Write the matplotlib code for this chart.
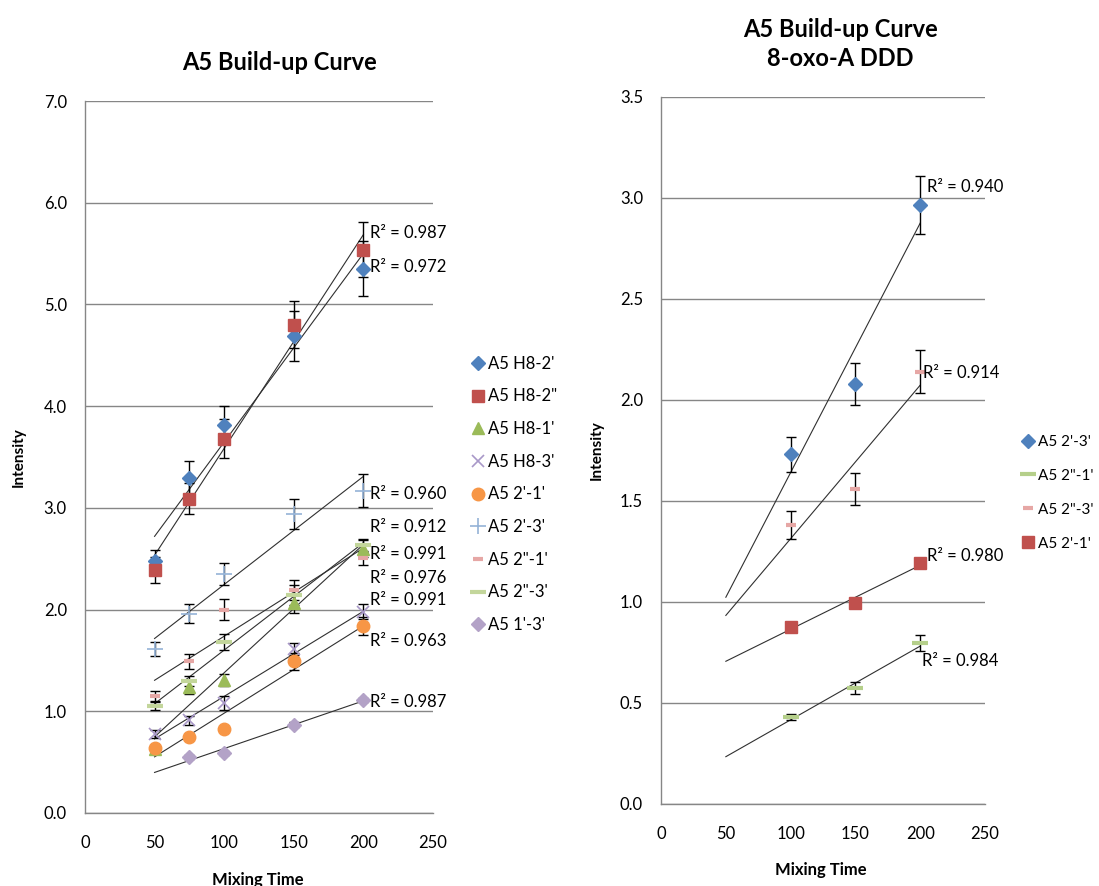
import numpy as np
import matplotlib
matplotlib.use("Agg")
import matplotlib.pyplot as plt

plt.rcParams['font.family'] = ['Lato', 'DejaVu Sans']

# ---- left chart data ----
mix_time = [50, 75, 100, 150, 200]
left_names = ["A5 H8-2'", 'A5 H8-2"', "A5 H8-1'", "A5 H8-3'", "A5 2'-1'",
              "A5 2'-3'", "A5 2\"-1'", "A5 2\"-3'", "A5 1'-3'"]
h8_2p = [2.48, 3.29, 3.815, 4.69, 5.35]
h8_2pp = [2.39, 3.09, 3.68, 4.80, 5.54]
h8_1p = [0.63, 1.24, 1.31, 2.06, 2.60]
h8_3p = [0.78, 0.91, 1.08, 1.61, 1.98]
a2p_1p = [0.64, 0.75, 0.83, 1.49, 1.84]
a2p_3p = [1.61, 1.96, 2.35, 2.94, 3.17]
a2pp_1p = [1.15, 1.49, 2.00, 2.19, 2.51]
a2pp_3p = [1.05, 1.30, 1.68, 2.14, 2.63]
a1p_3p = [np.nan, 0.55, 0.59, 0.87, 1.11]
h8_2p_err = [0.11, 0.17, 0.19, 0.25, 0.27]
h8_2pp_err = [0.13, 0.15, 0.19, 0.23, 0.27]
h8_1p_err = [0.0, 0.07, 0.06, 0.09, 0.08]
h8_3p_err = [0.04, 0.04, 0.07, 0.06, 0.07]
a2p_1p_err = [0.0, 0.0, 0.0, 0.08, 0.09]
a2p_3p_err = [0.07, 0.09, 0.11, 0.15, 0.16]
a2pp_1p_err = [0.05, 0.07, 0.10, 0.10, 0.07]
a2pp_3p_err = [0.04, 0.05, 0.08, 0.10, 0.06]
a1p_3p_err = [0.0, 0.02, 0.02, 0.02, 0.02]
left_r2 = ["0.987", "0.972", "0.960", "0.912", "0.991", "0.976", "0.991", "0.963", "0.987"]
left_r2_y = [5.70, 5.37, 3.14, 2.815, 2.55, 2.31, 2.09, 1.69, 1.094]

# ---- right chart data ----
mix_time_r = [100, 150, 200]
right_names = ["A5 2'-3'", "A5 2\"-1'", "A5 2\"-3'", "A5 2'-1'"]
r_2p_3p = [1.73, 2.08, 2.965]
r_2pp_1p = [0.43, 0.572, 0.795]
r_2pp_3p = [1.38, 1.56, 2.14]
r_2p_1p = [0.878, 0.997, 1.195]
r_2p_3p_err = [0.085, 0.105, 0.145]
r_2pp_1p_err = [0.015, 0.03, 0.04]
r_2pp_3p_err = [0.07, 0.078, 0.105]
r_2p_1p_err = [0.0, 0.0, 0.0]
right_r2 = ["0.940", "0.914", "0.980", "0.984"]
right_r2_xy = [(205, 3.056), (202, 2.135), (205, 1.228), (201, 0.709)]

# trend lines are drawn over this x range on both charts
trend_range = (50, 200)

GRID = '#868686'
FS = 12

left_series = [
    (h8_2p, h8_2p_err, dict(marker='D', ms=7, color='#4F81BD')),
    (h8_2pp, h8_2pp_err, dict(marker='s', ms=9, color='#C0504D')),
    (h8_1p, h8_1p_err, dict(marker='^', ms=9, color='#9BBB59')),
    (h8_3p, h8_3p_err, dict(marker='x', ms=9, color='#A898C8', mew=1.2)),
    (a2p_1p, a2p_1p_err, dict(marker='o', ms=9, color='#F79646')),
    (a2p_3p, a2p_3p_err, dict(marker='+', ms=11, color='#95B3D7', mew=1.2)),
    (a2pp_1p, a2pp_1p_err, dict(marker='_', ms=7, color='#E6A7A5', mew=3)),
    (a2pp_3p, a2pp_3p_err, dict(marker='_', ms=11, color='#C3D69B', mew=3)),
    (a1p_3p, a1p_3p_err, dict(marker='D', ms=7, color='#B3A2C7')),
]

right_series = [
    (r_2p_3p, r_2p_3p_err, dict(marker='D', ms=7, color='#4F81BD')),
    (r_2pp_1p, r_2pp_1p_err, dict(marker='_', ms=11, color='#B5CF8A', mew=3)),
    (r_2pp_3p, r_2pp_3p_err, dict(marker='_', ms=7, color='#E6A7A5', mew=3)),
    (r_2p_1p, r_2p_1p_err, dict(marker='s', ms=9, color='#C0504D')),
]


def style_axes(ax, ymax, ystep):
    ax.set_xlim(0, 250)
    ax.set_ylim(0, ymax)
    ax.set_xticks(np.arange(0, 251, 50))
    ax.set_yticks(np.arange(0, ymax + 1e-9, ystep))
    ax.yaxis.set_major_formatter(matplotlib.ticker.FormatStrFormatter('%.1f'))
    ax.grid(axis='y', color=GRID, lw=1)
    ax.set_axisbelow(True)
    for s in ['top', 'right']:
        ax.spines[s].set_visible(False)
    for s in ['left', 'bottom']:
        ax.spines[s].set_color(GRID)
        ax.spines[s].set_linewidth(1)
    ax.tick_params(axis='y', length=0, pad=13, labelsize=FS)
    ax.tick_params(axis='x', length=0, pad=16, labelsize=FS)


def draw_series(ax, x, series, names):
    x = np.array(x, dtype=float)
    handles = []
    for (y, err, st), name in zip(series, names):
        y = np.array(y, dtype=float)
        ok = ~np.isnan(y)
        # linear trend line
        k, b = np.polyfit(x[ok], y[ok], 1)
        xl = np.array(trend_range, dtype=float)
        ax.plot(xl, k * xl + b, color='#303030', lw=0.8, zorder=2)
        e = np.array(err, dtype=float)
        if e.any():
            ax.errorbar(x[ok], y[ok], yerr=e[ok], fmt='none', ecolor='black',
                        elinewidth=1, capsize=3.5, capthick=1, zorder=3)
        h, = ax.plot(x, y, linestyle='none', label=name, zorder=4,
                     markeredgecolor=st['color'], markerfacecolor=st['color'],
                     **{kk: v for kk, v in st.items() if kk != 'color'})
        handles.append(h)
    return handles


fig = plt.figure(figsize=(10.99, 8.86), dpi=100)

axl = fig.add_axes([0.0773, 0.0824, 0.3167, 0.8036])
style_axes(axl, 7.0, 1.0)
hl = draw_series(axl, mix_time, left_series, left_names)
for r, yy in zip(left_r2, left_r2_y):
    axl.text(204.7, yy, "R² = " + r, fontsize=FS, va='center', ha='left', zorder=5)
fig.legend(handles=hl, loc='upper left', bbox_to_anchor=(0.424, 0.606),
           frameon=False, fontsize=FS, handlelength=0.6, handletextpad=0.3,
           labelspacing=1.0, borderaxespad=0)

axr = fig.add_axes([0.6015, 0.0926, 0.2948, 0.798])
style_axes(axr, 3.5, 0.5)
hr = draw_series(axr, mix_time_r, right_series, right_names)
for r, (xx, yy) in zip(right_r2, right_r2_xy):
    axr.text(xx, yy, "R² = " + r, fontsize=FS, va='center', ha='left', zorder=5)
fig.legend(handles=hr, loc='upper left', bbox_to_anchor=(0.926, 0.516),
           frameon=False, fontsize=11, handlelength=0.6, handletextpad=0.3,
           labelspacing=1.3, borderaxespad=0)

# titles and axis labels
fig.text(279.7 / 1099, 1 - 62 / 886, "A5 Build-up Curve", ha='center', va='center',
         fontsize=17, fontweight='bold')
fig.text(840 / 1099, 1 - 44 / 886, "A5 Build-up Curve\n8-oxo-A DDD", ha='center',
         va='center', fontsize=17, fontweight='bold', linespacing=1.3)
fig.text(19 / 1099, 1 - 457 / 886, "Intensity", rotation=90, ha='center', va='center',
         fontsize=11, fontweight='bold')
fig.text(597 / 1099, 1 - 450 / 886, "Intensity", rotation=90, ha='center', va='center',
         fontsize=11, fontweight='bold')
fig.text(257.7 / 1099, 1 - 880 / 886, "Mixing Time", ha='center', va='center',
         fontsize=12, fontweight='bold')
fig.text(821 / 1099, 1 - 870 / 886, "Mixing Time", ha='center', va='center',
         fontsize=12, fontweight='bold')

fig.savefig("out.png", dpi=100)
